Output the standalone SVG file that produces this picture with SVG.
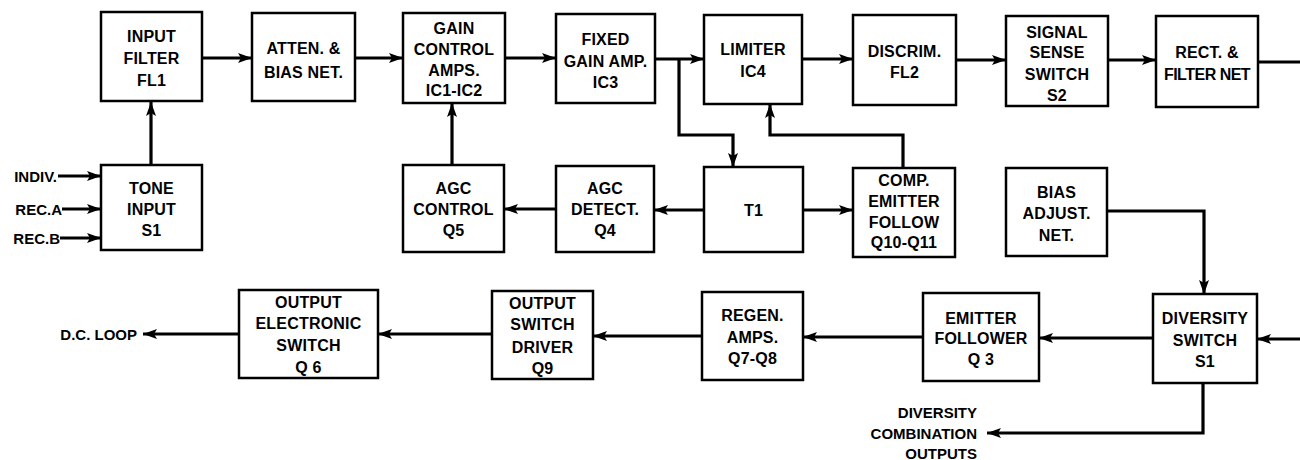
<svg xmlns="http://www.w3.org/2000/svg" width="1300" height="460" viewBox="0 0 1300 460">
<style>
.box{fill:#fff;stroke:#000;stroke-width:2.5}
.t{font-family:"Liberation Sans",Arial,sans-serif;font-size:16px;font-weight:bold;letter-spacing:0.2px;fill:#000;text-anchor:middle;dominant-baseline:central}
.l{font-family:"Liberation Sans",Arial,sans-serif;font-size:15px;font-weight:bold;fill:#000;text-anchor:end;dominant-baseline:central}
.c{fill:none;stroke:#000;stroke-width:3.2;stroke-linejoin:miter}
.a{marker-end:url(#arr)}
</style>
<defs>
<marker id="arr" markerUnits="userSpaceOnUse" markerWidth="16" markerHeight="11" refX="14" refY="5" orient="auto">
<path d="M0,0 L14,5 L0,10 L3,5 z" fill="#000"/>
</marker>
</defs>
<rect width="1300" height="460" fill="#fff"/>
<g id="connectors">
<line class="c a" x1="58" y1="176" x2="101" y2="176"/>
<line class="c a" x1="62" y1="209" x2="101" y2="209"/>
<line class="c a" x1="60" y1="238" x2="101" y2="238"/>
<line class="c a" x1="151" y1="165" x2="151" y2="102"/>
<line class="c a" x1="202" y1="58" x2="252" y2="58"/>
<line class="c a" x1="355" y1="58" x2="403" y2="58"/>
<line class="c a" x1="505" y1="58" x2="556" y2="58"/>
<line class="c a" x1="655" y1="59" x2="704" y2="59"/>
<polyline class="c a" points="679,59 679,135 733,135 733,167"/>
<line class="c a" x1="802" y1="59" x2="853" y2="59"/>
<line class="c a" x1="956" y1="60" x2="1006" y2="60"/>
<line class="c a" x1="1108" y1="60" x2="1156" y2="60"/>
<line class="c" x1="1258" y1="62" x2="1300" y2="62"/>
<polyline class="c a" points="903,168 903,135 770,135 770,104"/>
<line class="c a" x1="704" y1="210" x2="654" y2="210"/>
<line class="c a" x1="803" y1="210" x2="853" y2="210"/>
<line class="c a" x1="556" y1="209" x2="504" y2="209"/>
<line class="c a" x1="452" y1="165" x2="452" y2="103"/>
<polyline class="c a" points="1107,211 1204,211 1204,294"/>
<line class="c a" x1="1300" y1="339" x2="1257" y2="339"/>
<line class="c a" x1="1153" y1="338" x2="1039" y2="338"/>
<line class="c a" x1="923" y1="337" x2="803" y2="337"/>
<line class="c a" x1="702" y1="336" x2="593" y2="336"/>
<line class="c a" x1="492" y1="334" x2="378" y2="334"/>
<line class="c a" x1="239" y1="334" x2="143" y2="334"/>
<polyline class="c a" points="1203,383 1203,433 987,433"/>
</g>
<g id="labels">
<text class="l" x="57" y="176">INDIV.</text>
<text class="l" x="62" y="209">REC.A</text>
<text class="l" x="60" y="238">REC.B</text>
<text class="l" x="137" y="334">D.C. LOOP</text>
<text class="l" x="977" y="412">DIVERSITY</text>
<text class="l" x="977" y="433">COMBINATION</text>
<text class="l" x="977" y="453">OUTPUTS</text>
</g>
<g id="input-filter"><rect class="box" x="101" y="12" width="101" height="89"/>
<text class="t" x="151.5" y="36">INPUT</text><text class="t" x="151.5" y="58">FILTER</text><text class="t" x="151.5" y="80">FL1</text></g>
<g id="atten-bias"><rect class="box" x="252" y="13" width="103" height="88"/>
<text class="t" x="303.5" y="48">ATTEN. &amp;</text><text class="t" x="303.5" y="72">BIAS NET.</text></g>
<g id="gain-control"><rect class="box" x="403" y="13" width="102" height="90"/>
<text class="t" x="454" y="28">GAIN</text><text class="t" x="454" y="49">CONTROL</text><text class="t" x="454" y="70">AMPS.</text><text class="t" x="454" y="90">IC1-IC2</text></g>
<g id="fixed-gain"><rect class="box" x="556" y="14" width="99" height="89"/>
<text class="t" x="605.5" y="39">FIXED</text><text class="t" x="605.5" y="61">GAIN AMP.</text><text class="t" x="605.5" y="82">IC3</text></g>
<g id="limiter"><rect class="box" x="704" y="15" width="98" height="89"/>
<text class="t" x="753" y="49">LIMITER</text><text class="t" x="753" y="71">IC4</text></g>
<g id="discrim"><rect class="box" x="853" y="15" width="103" height="90"/>
<text class="t" x="904.5" y="51">DISCRIM.</text><text class="t" x="904.5" y="72">FL2</text></g>
<g id="signal-sense"><rect class="box" x="1006" y="16" width="102" height="90"/>
<text class="t" x="1057" y="32">SIGNAL</text><text class="t" x="1057" y="52">SENSE</text><text class="t" x="1057" y="74">SWITCH</text><text class="t" x="1057" y="95">S2</text></g>
<g id="rect-filter"><rect class="box" x="1156" y="16" width="102" height="91"/>
<text class="t" x="1207" y="52">RECT. &amp;</text><text class="t" x="1207" y="74" style="letter-spacing:-0.5px">FILTER NET</text></g>
<g id="tone-input"><rect class="box" x="101" y="165" width="101" height="85"/>
<text class="t" x="151.5" y="188">TONE</text><text class="t" x="151.5" y="209">INPUT</text><text class="t" x="151.5" y="230">S1</text></g>
<g id="agc-control"><rect class="box" x="403" y="165" width="101" height="87"/>
<text class="t" x="453.5" y="188">AGC</text><text class="t" x="453.5" y="209">CONTROL</text><text class="t" x="453.5" y="230">Q5</text></g>
<g id="agc-detect"><rect class="box" x="556" y="166" width="98" height="86"/>
<text class="t" x="605" y="188">AGC</text><text class="t" x="605" y="209">DETECT.</text><text class="t" x="605" y="230">Q4</text></g>
<g id="t1"><rect class="box" x="704" y="167" width="99" height="85"/>
<text class="t" x="753.5" y="210">T1</text></g>
<g id="comp-emitter"><rect class="box" x="853" y="168" width="102" height="89"/>
<text class="t" x="904" y="180">COMP.</text><text class="t" x="904" y="201">EMITTER</text><text class="t" x="904" y="222">FOLLOW</text><text class="t" x="904" y="242">Q10-Q11</text></g>
<g id="bias-adjust"><rect class="box" x="1006" y="168" width="101" height="88"/>
<text class="t" x="1056.5" y="192">BIAS</text><text class="t" x="1056.5" y="213">ADJUST.</text><text class="t" x="1056.5" y="235">NET.</text></g>
<g id="output-electronic"><rect class="box" x="239" y="290" width="139" height="88"/>
<text class="t" x="308.5" y="302">OUTPUT</text><text class="t" x="308.5" y="323">ELECTRONIC</text><text class="t" x="308.5" y="345">SWITCH</text><text class="t" x="308.5" y="367">Q 6</text></g>
<g id="output-driver"><rect class="box" x="492" y="291" width="101" height="88"/>
<text class="t" x="542.5" y="303">OUTPUT</text><text class="t" x="542.5" y="324">SWITCH</text><text class="t" x="542.5" y="347">DRIVER</text><text class="t" x="542.5" y="368">Q9</text></g>
<g id="regen-amps"><rect class="box" x="702" y="292" width="101" height="88"/>
<text class="t" x="752.5" y="315">REGEN.</text><text class="t" x="752.5" y="337">AMPS.</text><text class="t" x="752.5" y="358">Q7-Q8</text></g>
<g id="emitter-follower"><rect class="box" x="923" y="293" width="116" height="88"/>
<text class="t" x="981" y="318">EMITTER</text><text class="t" x="981" y="338">FOLLOWER</text><text class="t" x="981" y="359">Q 3</text></g>
<g id="diversity-switch"><rect class="box" x="1153" y="294" width="104" height="89"/>
<text class="t" x="1205" y="318">DIVERSITY</text><text class="t" x="1205" y="340">SWITCH</text><text class="t" x="1205" y="361">S1</text></g>
</svg>
